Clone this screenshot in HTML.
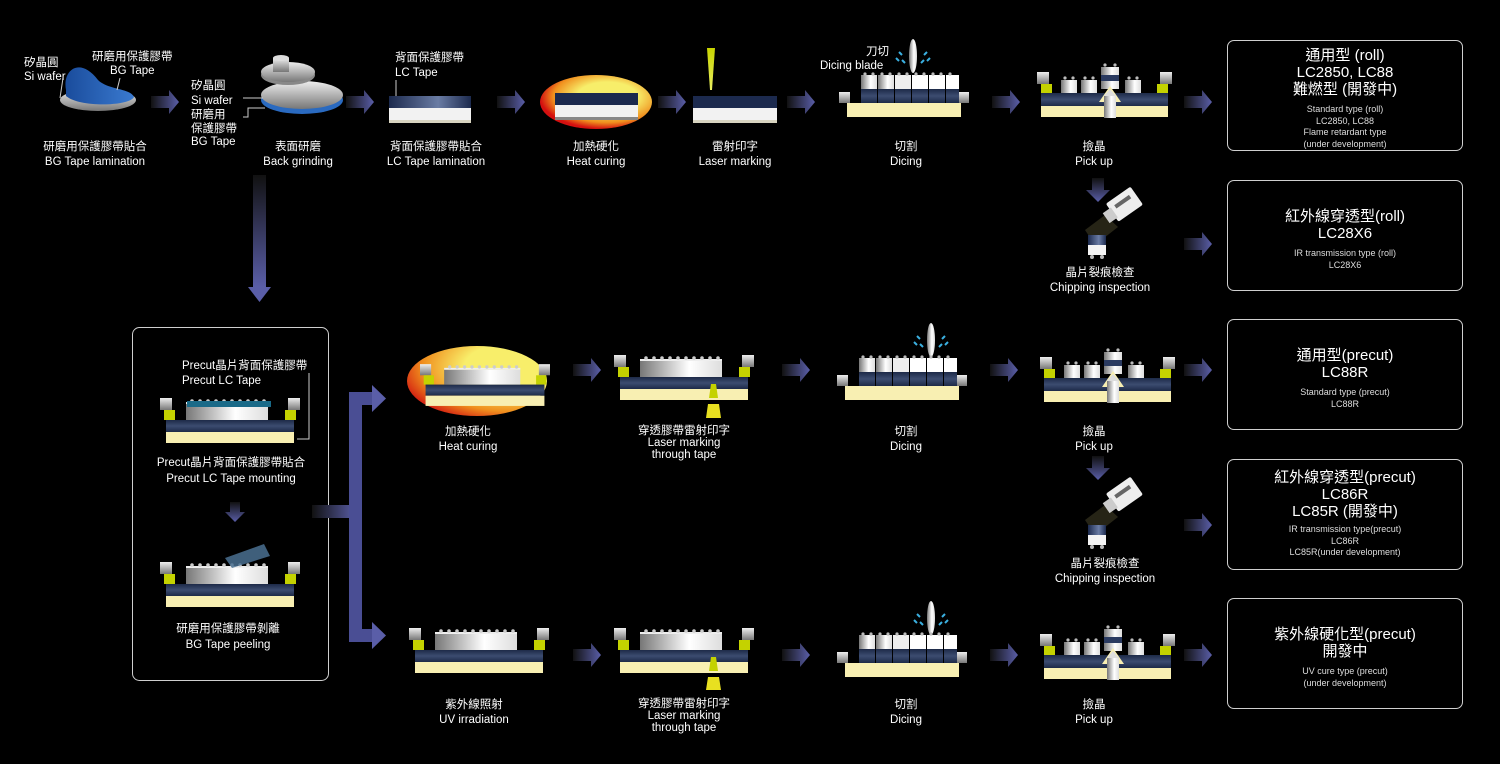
<!DOCTYPE html>
<html><head><meta charset="utf-8">
<style>
html,body{margin:0;padding:0;background:#000;}
#c{position:relative;width:1500px;height:764px;overflow:hidden;background:#000;font-family:"Liberation Sans","Noto Sans CJK TC",sans-serif;color:#fff;}
svg{position:absolute;left:0;top:0;}
.t{position:absolute;width:200px;text-align:center;font-size:11.5px;line-height:15px;color:#fff;white-space:nowrap;}
.l{position:absolute;font-size:11.5px;line-height:14px;color:#fff;white-space:nowrap;}
.box{position:absolute;left:1227px;width:236px;height:111px;border:1px solid #cfcfcf;border-radius:7px;box-sizing:border-box;text-align:center;}
.box .h{font-size:15px;line-height:17px;margin-top:6px;}
.box .s{font-size:9px;line-height:11.5px;margin-top:6px;color:#ddd;}
</style></head><body><div id="c">
<svg width="1500" height="764" viewBox="0 0 1500 764">
<defs>
<linearGradient id="ah" x1="0" x2="1"><stop offset="0" stop-color="#111"/><stop offset="1" stop-color="#5a5ea8"/></linearGradient>
<linearGradient id="av" x1="0" y1="0" x2="0" y2="1"><stop offset="0" stop-color="#111"/><stop offset="1" stop-color="#5a5ea8"/></linearGradient>
<linearGradient id="gray" x1="0" y1="0" x2="0" y2="1"><stop offset="0" stop-color="#eee"/><stop offset="1" stop-color="#777"/></linearGradient>
<linearGradient id="navy" x1="0" y1="0" x2="0" y2="1"><stop offset="0" stop-color="#1d2a48"/><stop offset="0.5" stop-color="#3c4c70"/><stop offset="1" stop-color="#1d2a48"/></linearGradient>
<linearGradient id="silver" x1="0" x2="1"><stop offset="0" stop-color="#777"/><stop offset="0.6" stop-color="#fff"/><stop offset="1" stop-color="#ddd"/></linearGradient>
<linearGradient id="lct" x1="0" x2="1"><stop offset="0" stop-color="#1c2a4e"/><stop offset="0.6" stop-color="#6a7ca4"/><stop offset="1" stop-color="#1c2a4e"/></linearGradient>
<radialGradient id="heat" cx="0.6" cy="0.4" r="0.6"><stop offset="0.45" stop-color="#f7ee6a"/><stop offset="0.8" stop-color="#f0901e"/><stop offset="1" stop-color="#d41010"/></radialGradient>
<radialGradient id="heat2" cx="0.75" cy="0.3" r="0.85"><stop offset="0.4" stop-color="#f8ee6a"/><stop offset="0.75" stop-color="#f0901e"/><stop offset="1" stop-color="#d01010"/></radialGradient>
<linearGradient id="blue" x1="0" x2="1"><stop offset="0" stop-color="#1a4c9c"/><stop offset="1" stop-color="#3a7ad0"/></linearGradient>
<linearGradient id="cone" x1="0" y1="0" x2="0" y2="1"><stop offset="0" stop-color="#c8d400"/><stop offset="1" stop-color="#e8ee60"/></linearGradient>
<symbol id="arr" viewBox="0 0 28 24"><polygon points="0,6 18,6 18,0 28,12 18,24 18,18 0,18" fill="url(#ah)"/></symbol>
<symbol id="arrd" viewBox="0 0 24 24"><polygon points="6,0 18,0 18,12 24,12 12,24 0,12 6,12" fill="url(#av)"/></symbol>
<symbol id="jig" viewBox="0 0 140 46">
 <rect x="0" y="0" width="12" height="12" fill="url(#gray)"/><rect x="128" y="0" width="12" height="12" fill="url(#gray)"/>
 <rect x="4" y="12" width="11" height="10" fill="#c4d200"/><rect x="125" y="12" width="11" height="10" fill="#c4d200"/>
 <rect x="6" y="22" width="128" height="12" fill="url(#navy)"/>
 <rect x="6" y="34" width="128" height="11" fill="#f8efb2"/>
 <rect x="26" y="6" width="82" height="16" fill="url(#silver)"/>
 <rect x="26" y="4" width="82" height="2" fill="#eee"/>
 <g fill="#ccc"><circle cx="32" cy="3" r="1.8"/><circle cx="40" cy="3" r="1.8"/><circle cx="48" cy="3" r="1.8"/><circle cx="56" cy="3" r="1.8"/><circle cx="64" cy="3" r="1.8"/><circle cx="72" cy="3" r="1.8"/><circle cx="80" cy="3" r="1.8"/><circle cx="88" cy="3" r="1.8"/><circle cx="96" cy="3" r="1.8"/><circle cx="104" cy="3" r="1.8"/></g>
</symbol>
<symbol id="dice" viewBox="0 0 130 46">
 <rect x="0" y="20" width="11" height="11" fill="url(#gray)"/><rect x="119" y="20" width="11" height="11" fill="url(#gray)"/>
 <rect x="8" y="31" width="114" height="14" fill="#f8efb2"/>
 <g><rect x="22" y="3" width="16" height="14" fill="url(#silver)"/><rect x="22" y="17" width="16" height="14" fill="url(#navy)"/>
 <rect x="39" y="3" width="16" height="14" fill="url(#silver)"/><rect x="39" y="17" width="16" height="14" fill="url(#navy)"/>
 <rect x="56" y="3" width="16" height="14" fill="#eee"/><rect x="56" y="17" width="16" height="14" fill="url(#navy)"/>
 <rect x="73" y="3" width="16" height="14" fill="#fff"/><rect x="73" y="17" width="16" height="14" fill="url(#navy)"/>
 <rect x="90" y="3" width="16" height="14" fill="#fff"/><rect x="90" y="17" width="16" height="14" fill="url(#navy)"/>
 <rect x="107" y="3" width="13" height="14" fill="#fff"/><rect x="107" y="17" width="13" height="14" fill="url(#navy)"/></g>
 <g fill="#bbb"><circle cx="26" cy="2" r="1.6"/><circle cx="34" cy="2" r="1.6"/><circle cx="43" cy="2" r="1.6"/><circle cx="51" cy="2" r="1.6"/><circle cx="60" cy="2" r="1.6"/><circle cx="68" cy="2" r="1.6"/><circle cx="77" cy="2" r="1.6"/><circle cx="85" cy="2" r="1.6"/><circle cx="94" cy="2" r="1.6"/><circle cx="102" cy="2" r="1.6"/><circle cx="111" cy="2" r="1.6"/></g>
</symbol>
<symbol id="pick" viewBox="0 0 135 56">
 <rect x="0" y="10" width="12" height="12" fill="url(#gray)"/><rect x="123" y="10" width="12" height="12" fill="url(#gray)"/>
 <rect x="4" y="22" width="11" height="9" fill="#c4d200"/><rect x="120" y="22" width="11" height="9" fill="#c4d200"/>
 <rect x="4" y="31" width="127" height="13" fill="url(#navy)"/>
 <rect x="4" y="44" width="127" height="11" fill="#f8efb2"/>
 <rect x="24" y="18" width="16" height="13" fill="url(#silver)"/><rect x="44" y="18" width="16" height="13" fill="url(#silver)"/><rect x="88" y="18" width="16" height="13" fill="url(#silver)"/>
 <rect x="64" y="5" width="18" height="22" fill="url(#silver)"/><rect x="64" y="13" width="18" height="6" fill="#2a3a60"/>
 <polygon points="62,40 73,24 84,40" fill="#f8efb2"/>
 <rect x="67" y="34" width="12" height="22" fill="url(#silver)"/><polygon points="67,34 73,27 79,34" fill="#ddd"/>
 <g fill="#bbb"><circle cx="28" cy="16" r="1.6"/><circle cx="36" cy="16" r="1.6"/><circle cx="48" cy="16" r="1.6"/><circle cx="56" cy="16" r="1.6"/><circle cx="92" cy="16" r="1.6"/><circle cx="100" cy="16" r="1.6"/><circle cx="68" cy="3" r="1.6"/><circle cx="78" cy="3" r="1.6"/></g>
</symbol>
<symbol id="blade" viewBox="0 0 40 40">
 <ellipse cx="20" cy="18" rx="4" ry="17" fill="url(#silver)"/>
 <g stroke="#3ab0e0" stroke-width="2"><line x1="6" y1="14" x2="9" y2="17"/><line x1="9" y1="22" x2="12" y2="25"/><line x1="3" y1="20" x2="6" y2="23"/><line x1="34" y1="14" x2="31" y2="17"/><line x1="31" y1="22" x2="28" y2="25"/><line x1="37" y1="20" x2="34" y2="23"/></g>
</symbol>
<symbol id="insp" viewBox="0 0 70 75">
 <polygon points="25,30 5,45 15,60 38,42" fill="#2a2818" opacity="0.9"/>
 <g transform="rotate(-35 45 20)"><rect x="30" y="8" width="30" height="22" rx="2" fill="#eee"/><rect x="36" y="14" width="18" height="4" fill="#666"/><rect x="22" y="14" width="10" height="12" fill="#ccc"/></g>
 <rect x="8" y="50" width="18" height="10" fill="url(#lct)"/><rect x="8" y="60" width="18" height="10" fill="#f4f4f4"/>
 <g fill="#bbb"><circle cx="12" cy="72" r="2"/><circle cx="22" cy="72" r="2"/></g>
</symbol>
</defs>

<!-- ROW 1 -->
<ellipse cx="98" cy="100" rx="38" ry="11" fill="url(#gray)"/>
<path d="M66,90 C62,70 80,56 98,80 C108,90 130,88 134,97 C130,106 80,108 66,96 Z" fill="url(#blue)"/>
<line x1="63" y1="78" x2="60" y2="98" stroke="#ccc" stroke-width="1"/>
<line x1="120" y1="78" x2="117" y2="90" stroke="#ccc" stroke-width="1"/>
<use href="#arr" x="151" y="90" width="28" height="24"/>
<ellipse cx="302" cy="100" rx="41" ry="14" fill="#2a6ac0"/>
<ellipse cx="302" cy="95" rx="41" ry="14" fill="url(#gray)"/>
<ellipse cx="288" cy="75" rx="27" ry="10" fill="#888"/>
<ellipse cx="288" cy="72" rx="27" ry="10" fill="url(#gray)"/>
<rect x="273" y="58" width="16" height="14" fill="url(#gray)"/><ellipse cx="281" cy="58" rx="8" ry="3" fill="#ddd"/>
<polyline points="243,98 263,98" stroke="#ccc" fill="none"/>
<polyline points="243,117 248,117 248,108 265,108" stroke="#ccc" fill="none"/>
<use href="#arr" x="346" y="90" width="28" height="24"/>
<rect x="389" y="96" width="82" height="12" fill="url(#lct)"/>
<rect x="389" y="108" width="82" height="12" fill="#f2f2f2"/>
<rect x="389" y="120" width="82" height="3" fill="#d8d4c0"/>
<line x1="396" y1="80" x2="396" y2="96" stroke="#ccc"/>
<use href="#arr" x="497" y="90" width="28" height="24"/>
<ellipse cx="596" cy="102" rx="56" ry="27" fill="url(#heat)"/>
<rect x="555" y="93" width="83" height="12" fill="#1c2a4e"/><rect x="555" y="105" width="83" height="12" fill="#f2f2f2"/><rect x="555" y="117" width="83" height="3" fill="#888"/>
<use href="#arr" x="658" y="90" width="28" height="24"/>
<polygon points="707,48 715,48 712,90 710,90" fill="url(#cone)"/>
<rect x="693" y="96" width="84" height="12" fill="#1c2a4e"/><rect x="693" y="108" width="84" height="12" fill="#f2f2f2"/><rect x="693" y="120" width="84" height="3" fill="#d8d4c0"/>
<use href="#arr" x="787" y="90" width="28" height="24"/>
<use href="#blade" x="893" y="38" width="40" height="40"/>
<use href="#dice" x="839" y="72" width="130" height="46"/>
<use href="#arr" x="992" y="90" width="28" height="24"/>
<use href="#pick" x="1037" y="62" width="135" height="56"/>
<use href="#arr" x="1184" y="90" width="28" height="24"/>
<use href="#arrd" x="1086" y="178" width="24" height="24"/>
<use href="#insp" x="1080" y="185" width="70" height="75"/>
<use href="#arr" x="1184" y="232" width="28" height="24"/>

<rect x="253" y="175" width="13" height="112" fill="url(#av)"/>
<polygon points="248,287 271,287 259.5,302" fill="#5a5ea8"/>

<rect x="132.5" y="327.5" width="196" height="353" rx="7" fill="none" stroke="#cfcfcf"/>
<use href="#jig" x="155" y="398" width="150" height="46"/>
<rect x="187" y="401" width="84" height="6" fill="#1a6a88"/>
<polyline points="297,439 309,439 309,373" stroke="#ccc" fill="none"/>
<use href="#arrd" x="225" y="500" width="20" height="24"/>
<use href="#jig" x="155" y="562" width="150" height="46"/>
<polygon points="225,558 264,544 270,556 232,568" fill="#4a7090" opacity="0.85"/>

<rect x="312" y="505" width="45" height="13" fill="url(#ah)"/>
<rect x="349" y="392" width="13" height="250" fill="#4a4e94"/>
<rect x="349" y="392" width="24" height="13" fill="#4a4e94"/>
<polygon points="372,385 386,398.5 372,412" fill="#5a5ea8"/>
<rect x="349" y="629" width="24" height="13" fill="#4a4e94"/>
<polygon points="372,622 386,635.5 372,649" fill="#5a5ea8"/>

<ellipse cx="477" cy="381" rx="70" ry="35" fill="url(#heat2)"/>
<use href="#jig" x="420" y="363" width="130" height="45"/>
<use href="#arr" x="573" y="358" width="28" height="24"/>
<use href="#jig" x="613" y="355" width="142" height="46"/>
<polygon points="711,384 716,384 718,398 709,398" fill="#c4d200"/><polygon points="708,404 719,404 721,418 706,418" fill="#e8e020"/>
<use href="#arr" x="782" y="358" width="28" height="24"/>
<use href="#blade" x="911" y="322" width="40" height="40"/>
<use href="#dice" x="837" y="355" width="130" height="46"/>
<use href="#arr" x="990" y="358" width="28" height="24"/>
<use href="#pick" x="1040" y="347" width="135" height="56"/>
<use href="#arr" x="1184" y="358" width="28" height="24"/>
<use href="#arrd" x="1086" y="456" width="24" height="24"/>
<use href="#insp" x="1080" y="475" width="70" height="75"/>
<use href="#arr" x="1184" y="513" width="28" height="24"/>

<use href="#jig" x="408" y="628" width="142" height="46"/>
<use href="#arr" x="573" y="643" width="28" height="24"/>
<use href="#jig" x="613" y="628" width="142" height="46"/>
<polygon points="711,657 716,657 718,671 709,671" fill="#c4d200"/><polygon points="708,677 719,677 721,690 706,690" fill="#e8e020"/>
<use href="#arr" x="782" y="643" width="28" height="24"/>
<use href="#blade" x="911" y="600" width="40" height="40"/>
<use href="#dice" x="837" y="632" width="130" height="46"/>
<use href="#arr" x="990" y="643" width="28" height="24"/>
<use href="#pick" x="1040" y="624" width="135" height="56"/>
<use href="#arr" x="1184" y="643" width="28" height="24"/>
</svg>

<div class="l" style="left:24px;top:56px;">矽晶圓<br>Si wafer</div>
<div class="l" style="left:92px;top:50px;text-align:center;">研磨用保護膠帶<br>BG Tape</div>
<div class="t" style="left:-5px;top:140px;">研磨用保護膠帶貼合<br>BG Tape lamination</div>
<div class="l" style="left:191px;top:79px;line-height:15px;">矽晶圓<br>Si wafer</div>
<div class="l" style="left:191px;top:109px;line-height:13.5px;">研磨用<br>保護膠帶<br>BG Tape</div>
<div class="t" style="left:198px;top:140px;">表面研磨<br>Back grinding</div>
<div class="l" style="left:395px;top:51px;line-height:15px;">背面保護膠帶<br>LC Tape</div>
<div class="t" style="left:336px;top:140px;">背面保護膠帶貼合<br>LC Tape lamination</div>
<div class="t" style="left:496px;top:140px;">加熱硬化<br>Heat curing</div>
<div class="t" style="left:635px;top:140px;">雷射印字<br>Laser marking</div>
<div class="l" style="left:866px;top:45px;">刀切</div>
<div class="l" style="left:820px;top:59px;">Dicing blade</div>
<div class="t" style="left:806px;top:140px;">切割<br>Dicing</div>
<div class="t" style="left:994px;top:140px;">撿晶<br>Pick up</div>
<div class="t" style="left:1000px;top:266px;">晶片裂痕檢查<br>Chipping inspection</div>

<div class="l" style="left:182px;top:359px;line-height:15px;">Precut晶片背面保護膠帶<br>Precut LC Tape</div>
<div class="t" style="left:131px;top:455px;line-height:16px;">Precut晶片背面保護膠帶貼合<br>Precut LC Tape mounting</div>
<div class="t" style="left:128px;top:621px;line-height:16px;">研磨用保護膠帶剝離<br>BG Tape peeling</div>

<div class="t" style="left:368px;top:425px;">加熱硬化<br>Heat curing</div>
<div class="t" style="left:584px;top:425px;line-height:12px;">穿透膠帶雷射印字<br>Laser marking<br>through tape</div>
<div class="t" style="left:806px;top:425px;">切割<br>Dicing</div>
<div class="t" style="left:994px;top:425px;">撿晶<br>Pick up</div>
<div class="t" style="left:1005px;top:557px;">晶片裂痕檢查<br>Chipping inspection</div>

<div class="t" style="left:374px;top:698px;">紫外線照射<br>UV irradiation</div>
<div class="t" style="left:584px;top:698px;line-height:12px;">穿透膠帶雷射印字<br>Laser marking<br>through tape</div>
<div class="t" style="left:806px;top:698px;">切割<br>Dicing</div>
<div class="t" style="left:994px;top:698px;">撿晶<br>Pick up</div>

<div class="box" style="top:40px;"><div class="h">通用型 (roll)<br>LC2850, LC88<br>難燃型 (開發中)</div><div class="s">Standard type (roll)<br>LC2850, LC88<br>Flame retardant type<br>(under development)</div></div>
<div class="box" style="top:180px;"><div class="h" style="margin-top:27px;">紅外線穿透型(roll)<br>LC28X6</div><div class="s">IR transmission type (roll)<br>LC28X6</div></div>
<div class="box" style="top:319px;"><div class="h" style="margin-top:27px;">通用型(precut)<br>LC88R</div><div class="s">Standard type (precut)<br>LC88R</div></div>
<div class="box" style="top:459px;"><div class="h" style="margin-top:9px;">紅外線穿透型(precut)<br>LC86R<br>LC85R (開發中)</div><div class="s" style="margin-top:4px;">IR transmission type(precut)<br>LC86R<br>LC85R(under development)</div></div>
<div class="box" style="top:598px;"><div class="h" style="margin-top:27px;">紫外線硬化型(precut)<br>開發中</div><div class="s">UV cure type (precut)<br>(under development)</div></div>
</div></body></html>
